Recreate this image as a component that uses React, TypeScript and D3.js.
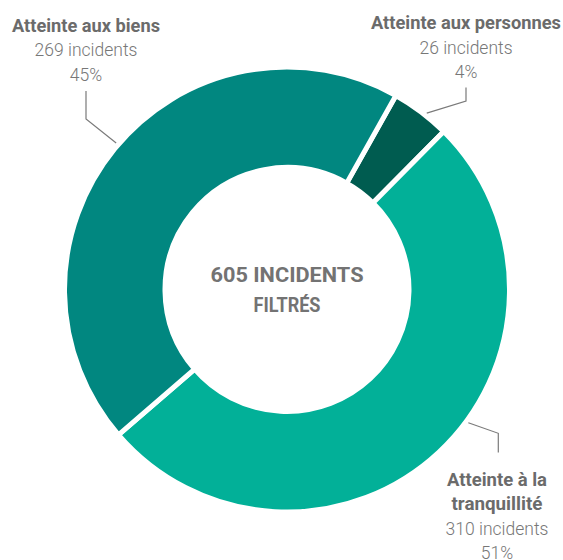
import React from "react";
import * as d3 from "d3";

// ---- data ----
const categories = ["Atteinte aux personnes", "Atteinte à la tranquillité", "Atteinte aux biens"];
const titleLines = [["Atteinte aux personnes"], ["Atteinte à la", "tranquillité"], ["Atteinte aux biens"]];
const counts = [26, 310, 269];
const percentLabels = ["4%", "51%", "45%"];
const centerLines = ["605 INCIDENTS", "FILTRÉS"];

// ---- style / layout ----
const colors = ["#005c50", "#02b098", "#018780"];
const W = 563;
const H = 560;
const cx = 287;
const cy = 289.5;
const rOut = 222.5;
const rIn = 122;
const startDeg = 29.3;
const boldColor = "#6b6b6b";
const lightColor = "#777777";
const lineH = 24.5;

// label layout: text centre x, first baseline y, leader anchor angle (deg), elbow & end points
const labelLayout = [
  { x: 466, y: 29, angle: 38.4, elbow: [466, 101], end: [466, 87.5] },
  { x: 497, y: 485.7, angle: 126.3, elbow: [498.3, 433.3], end: [498.3, 452.5] },
  { x: 86, y: 31.7, angle: 310.6, elbow: [86, 119], end: [86, 91] },
];
const titleWidths: Record<string, number> = {
  "Atteinte aux personnes": 190,
  "Atteinte à la": 100,
  "tranquillité": 91,
  "Atteinte aux biens": 148,
  "605 INCIDENTS": 153,
  "FILTRÉS": 67,
};

const boldFont = "'Roboto', 'Liberation Sans', sans-serif";
const lightFont = "'Roboto', 'Liberation Sans', sans-serif";

export default function App() {
  const toRad = (d: number) => (d * Math.PI) / 180;
  const pie = d3
    .pie<number>()
    .sort(null)
    .startAngle(toRad(startDeg))
    .endAngle(toRad(startDeg + 360));
  const arcs = pie(counts);
  const arc = d3.arc<d3.PieArcDatum<number>>().innerRadius(rIn).outerRadius(rOut);

  return (
    <svg width={W} height={H} style={{ position: "absolute", left: 0, top: 0 }}>
      <rect width={W} height={H} fill="#fff" />
      <g transform={`translate(${cx},${cy})`}>
        {arcs.map((a, i) => (
          <path key={i} d={arc(a) || ""} fill={colors[i]} stroke="#fff" strokeWidth={5} strokeLinejoin="miter" />
        ))}
        {centerLines.map((t, i) => (
          <text
            key={t}
            x={0}
            y={-7.8 + i * 30}
            textAnchor="middle"
            fontFamily={boldFont}
            fontWeight={700}
            fontSize={20}
            fill="#737373"
            textLength={titleWidths[t]}
            lengthAdjust="spacingAndGlyphs"
          >
            {t}
          </text>
        ))}
      </g>
      {categories.map((c, i) => {
        const L = labelLayout[i];
        const r = 225;
        const ang = toRad(L.angle);
        const sx = cx + r * Math.sin(ang);
        const sy = cy - r * Math.cos(ang);
        const lines = titleLines[i];
        return (
          <g key={c}>
            <polyline
              points={`${sx},${sy} ${L.elbow[0]},${L.elbow[1]} ${L.end[0]},${L.end[1]}`}
              fill="none"
              stroke="#7a7a7a"
              strokeWidth={1.2}
            />
            {lines.map((t, j) => (
              <text
                key={t}
                x={L.x}
                y={L.y + j * lineH}
                textAnchor="middle"
                fontFamily={boldFont}
                fontWeight={700}
                fontSize={18.5}
                fill={boldColor}
                textLength={titleWidths[t]}
                lengthAdjust="spacingAndGlyphs"
              >
                {t}
              </text>
            ))}
            <text
              x={L.x}
              y={L.y + lines.length * lineH}
              textAnchor="middle"
              fontFamily={lightFont}
              fontWeight={300}
              fontSize={17.5}
              fill={lightColor}
            >
              {`${counts[i]} incidents`}
            </text>
            <text
              x={L.x}
              y={L.y + (lines.length + 1) * lineH}
              textAnchor="middle"
              fontFamily={lightFont}
              fontWeight={300}
              fontSize={17.5}
              fill={lightColor}
            >
              {percentLabels[i]}
            </text>
          </g>
        );
      })}
    </svg>
  );
}
